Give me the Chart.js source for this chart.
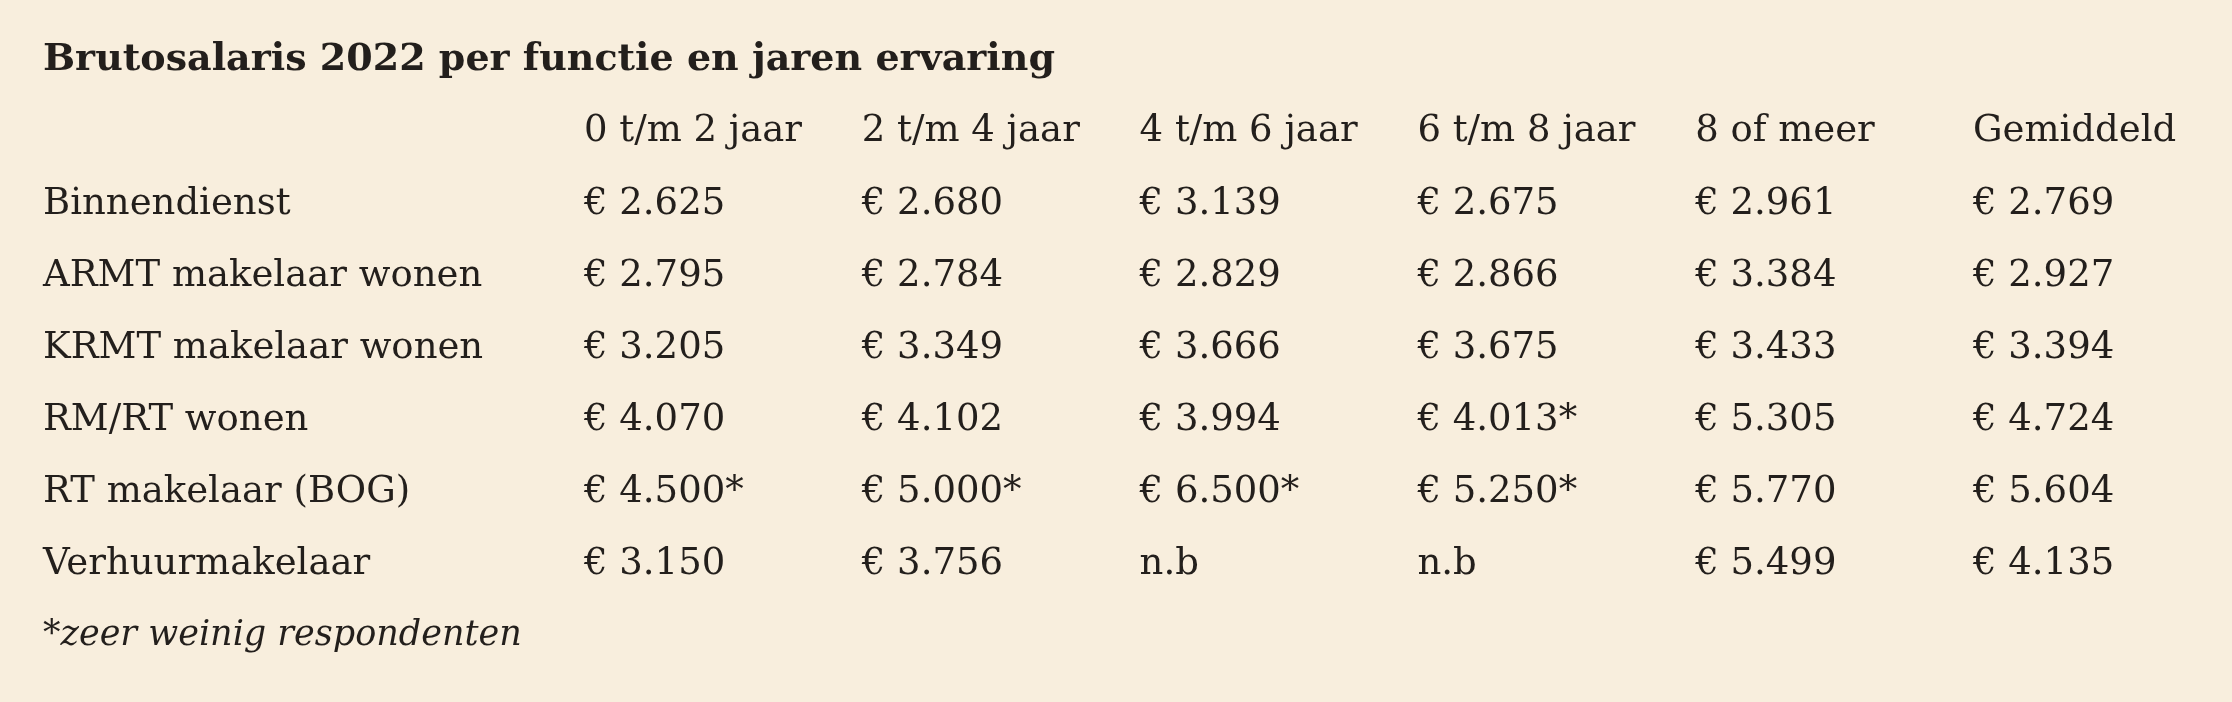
<!DOCTYPE html>
<html><head><meta charset="utf-8">
<script src="https://cdn.jsdelivr.net/npm/chart.js@4/dist/chart.umd.min.js"></script>
<style>html,body{margin:0;padding:0;background:#f8eedd}canvas{display:block}</style>
</head><body>
<div style="width:2232px;height:702px"><canvas id="c" width="2232" height="702"></canvas></div>
<script>
const title = "Brutosalaris 2022 per functie en jaren ervaring";
const columns = ["0 t/m 2 jaar","2 t/m 4 jaar","4 t/m 6 jaar","6 t/m 8 jaar","8 of meer","Gemiddeld"];
const rows = ["Binnendienst","ARMT makelaar wonen","KRMT makelaar wonen","RM/RT wonen","RT makelaar (BOG)","Verhuurmakelaar"];
const binnendienst = ["€ 2.625","€ 2.680","€ 3.139","€ 2.675","€ 2.961","€ 2.769"];
const armt = ["€ 2.795","€ 2.784","€ 2.829","€ 2.866","€ 3.384","€ 2.927"];
const krmt = ["€ 3.205","€ 3.349","€ 3.666","€ 3.675","€ 3.433","€ 3.394"];
const rmrt = ["€ 4.070","€ 4.102","€ 3.994","€ 4.013*","€ 5.305","€ 4.724"];
const rtBog = ["€ 4.500*","€ 5.000*","€ 6.500*","€ 5.250*","€ 5.770","€ 5.604"];
const verhuur = ["€ 3.150","€ 3.756","n.b","n.b","€ 5.499","€ 4.135"];
const footnote = "*zeer weinig respondenten";
const table = [binnendienst, armt, krmt, rmrt, rtBog, verhuur];

const points = [];
table.forEach((r, i) => r.forEach((v, j) => points.push({x: columns[j], y: rows[i], t: v})));

const FONT = "'DejaVu Serif'";
const INK = "#231f1c";
const textPlugin = {
  id: 'tableText',
  beforeDraw(chart) {
    const ctx = chart.ctx;
    ctx.save();
    ctx.fillStyle = "#f8eedd";
    ctx.fillRect(0, 0, chart.width, chart.height);
    ctx.restore();
  },
  afterDraw(chart) {
    const ctx = chart.ctx, xs = chart.scales.x, ys = chart.scales.y;
    ctx.save();
    ctx.fillStyle = INK;
    ctx.textBaseline = 'middle';
    ctx.textAlign = 'left';
    ctx.font = "bold 38px " + FONT;
    ctx.fillText(title, 43, 60);
    ctx.font = "37px " + FONT;
    columns.forEach((c, j) => ctx.fillText(c, xs.getPixelForValue(j), 131));
    rows.forEach((r, i) => ctx.fillText(r, 43, ys.getPixelForValue(i)));
    const meta = chart.getDatasetMeta(0);
    meta.data.forEach((el, k) => ctx.fillText(points[k].t, el.x, el.y));
    ctx.font = "italic 35px " + FONT;
    ctx.fillText(footnote, 43, 636);
    ctx.restore();
  }
};

new Chart(document.getElementById('c'), {
  type: 'scatter',
  data: { datasets: [{ data: points, pointRadius: 0, pointHoverRadius: 0 }] },
  options: {
    responsive: false, animation: false,
    layout: { padding: { left: 584, right: 259, top: 204, bottom: 138 } },
    plugins: { legend: { display: false }, tooltip: { enabled: false } },
    scales: {
      x: { type: 'category', labels: columns, offset: false, display: false },
      y: { type: 'category', labels: rows, offset: false, display: false }
    }
  },
  plugins: [textPlugin]
});
</script>
</body></html>
